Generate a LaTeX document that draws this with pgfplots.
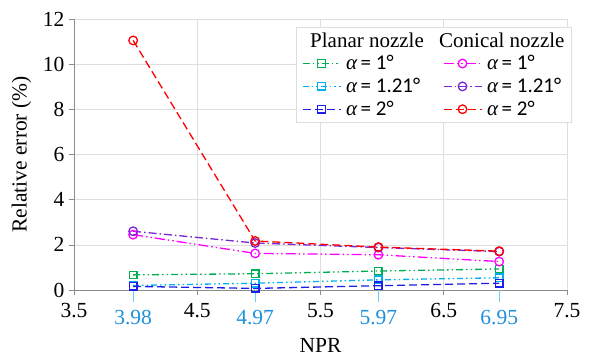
\documentclass[border=0pt]{standalone}
\usepackage{fontspec}
\setmainfont{Liberation Serif}
\newfontfamily\carlito{Carlito}
\usepackage{pgfplots}
\pgfplotsset{compat=1.18}
\definecolor{cgreen}{RGB}{0,176,80}
\definecolor{ccyan}{RGB}{0,176,240}
\definecolor{cblue}{RGB}{30,30,235}
\definecolor{cmag}{RGB}{255,0,255}
\definecolor{cpur}{RGB}{120,40,210}
\definecolor{cred}{RGB}{255,0,0}
\definecolor{tickblue}{RGB}{30,144,220}
\definecolor{gridc}{RGB}{222,222,222}
\definecolor{axc}{RGB}{140,140,140}
\tikzset{
  dgreen/.style={dash pattern=on 7pt off 3pt on 1.5pt off 3pt on 1.5pt off 3pt},
  dcyan/.style={dash pattern=on 6pt off 3pt on 1.5pt off 3pt on 1.5pt off 3pt},
  dblue/.style={dash pattern=on 8pt off 4pt},
  dmag/.style={dash pattern=on 10pt off 3pt on 1.5pt off 3pt on 1.5pt off 3pt},
  dpur/.style={dash pattern=on 8pt off 3pt on 1.5pt off 3pt},
  dred/.style={dash pattern=on 8pt off 4pt},
}
\pgfplotsset{
  sgreen/.style={color=cgreen, line width=1.3pt, dgreen, mark=square, mark size=3.7pt, mark options={solid, fill=white, line width=1.3pt}},
  scyan/.style={color=ccyan, line width=1.3pt, dcyan, mark=square, mark size=3.7pt, mark options={solid, fill=white, line width=1.3pt}},
  sblue/.style={color=cblue, line width=1.3pt, dblue, mark=square, mark size=3.7pt, mark options={solid, fill=white, line width=1.3pt}},
  smag/.style={color=cmag, line width=1.3pt, dmag, mark=o, mark size=4.3pt, mark options={solid, fill=white, line width=1.3pt}},
  spur/.style={color=cpur, line width=1.3pt, dpur, mark=o, mark size=4.3pt, mark options={solid, fill=white, line width=1.3pt}},
  sred/.style={color=cred, line width=1.3pt, dred, mark=o, mark size=4.3pt, mark options={solid, fill=white, line width=1.3pt}},
}
% legend image: colour, dash style, mark, mark size
\newcommand{\legimg}[4]{\addlegendimage{legend image code/.code={%
  \draw[draw=#1, line width=1.3pt, #2] (0pt,0pt) -- (38pt,0pt);
  \draw[draw=#1, fill=white, line width=1.3pt, solid] plot[mark=#3, mark size=#4] coordinates {(19pt,0pt)};}}}
\newcommand{\al}[1]{{\itshape α}\,{\carlito = #1°}}
\begin{document}
\begin{tikzpicture}
\path[use as bounding box] (-74pt,-66pt) rectangle (516pt,290pt);
\begin{axis}[
  at={(0pt,0pt)}, anchor=origin,
  scale only axis, width=493pt, height=271pt,
  xmin=3.5, xmax=7.5, ymin=0, ymax=12,
  xtick={3.5,4.5,5.5,6.5,7.5},
  ytick={0,2,4,6,8,10,12},
  axis x line*=bottom, axis y line*=left,
  axis line style={axc, line width=0.6pt, -},
  every tick/.style={axc, line width=0.6pt},
  tick align=outside, major tick length=5pt,
  grid=major, major grid style={gridc, line width=0.6pt},
  extra x ticks={3.98,4.97,5.97,6.95},
  extra x tick labels={3.98,4.97,5.97,6.95},
  extra x tick style={grid=none, major tick length=12pt, tick style={ccyan!60, line width=0.8pt}, tick label style={text=tickblue}},
  /pgf/number format/assume math mode=true,
  xticklabel style={/pgf/number format/fixed, /pgf/number format/precision=2},
  tick label style={font=\rmfamily\fontsize{21.5}{23}\selectfont},
  x tick label style={yshift=-5pt},
  y tick label style={xshift=-1pt},
  label style={font=\rmfamily\fontsize{21.5}{23}\selectfont},
  xlabel={NPR},
  ylabel={Relative error (\%)},
  xlabel style={yshift=4pt},
  ylabel style={yshift=5pt},
  legend columns=2,
  legend cell align=left,
  legend style={at={(1.01,0.97)}, anchor=north east, draw=gridc, line width=0.8pt, font=\rmfamily\fontsize{21}{22}\selectfont, row sep=3pt, inner xsep=5pt, inner ysep=3pt,
    /tikz/every odd column/.append style={column sep=3pt},
    /tikz/every even column/.append style={column sep=17pt}},
]
\addlegendimage{empty legend}\addlegendentry{\hspace*{-36pt}Planar nozzle\rule[-9pt]{0pt}{9pt}}
\addlegendimage{empty legend}\addlegendentry{\hspace*{-48pt}Conical nozzle}
\legimg{cgreen}{dgreen}{square}{3.7pt}\addlegendentry{\al{1}}
\legimg{cmag}{dmag}{o}{4.3pt}\addlegendentry{\al{1}}
\legimg{ccyan}{dcyan}{square}{3.7pt}\addlegendentry{\al{1.21}}
\legimg{cpur}{dpur}{o}{4.3pt}\addlegendentry{\al{1.21}}
\legimg{cblue}{dblue}{square}{3.7pt}\addlegendentry{\al{2}}
\legimg{cred}{dred}{o}{4.3pt}\addlegendentry{\al{2}}

\addplot[sgreen, forget plot] coordinates {(3.98,0.67) (4.97,0.72) (5.97,0.84) (6.95,0.93)};
\addplot[scyan, forget plot] coordinates {(3.98,0.20) (4.97,0.30) (5.97,0.45) (6.95,0.54)};
\addplot[sblue, forget plot] coordinates {(3.98,0.16) (4.97,0.07) (5.97,0.19) (6.95,0.30)};
\addplot[smag, forget plot] coordinates {(3.98,2.45) (4.97,1.62) (5.97,1.56) (6.95,1.26)};
\addplot[spur, forget plot] coordinates {(3.98,2.60) (4.97,2.08) (5.97,1.88) (6.95,1.70)};
\addplot[sred, forget plot] coordinates {(3.98,11.05) (4.97,2.17) (5.97,1.90) (6.95,1.72)};
\end{axis}
\end{tikzpicture}
\end{document}
